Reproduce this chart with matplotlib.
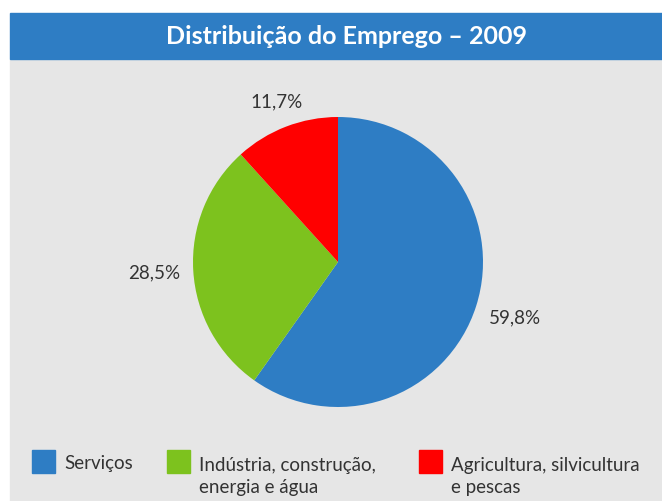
import matplotlib
matplotlib.use('Agg')
import numpy as np
import matplotlib.pyplot as plt
from matplotlib.patches import Rectangle

# Data
categories = ['Serviços', 'Indústria, construção,\nenergia e água', 'Agricultura, silvicultura\ne pescas']
shares = [59.8, 28.5, 11.7]
colors = ['#2E7DC4', '#7DC21E', '#FF0000']
label_dist = [1.28, 1.27, 1.18]
title = 'Distribuição do Emprego – 2009'

W, H = 662, 501
plt.rcParams['font.family'] = ['Lato', 'DejaVu Sans']
text_color = '#333333'

fig = plt.figure(figsize=(W / 100, H / 100), dpi=100)
fig.patch.set_facecolor('white')

def px(x, y):
    # pixel coords from top-left -> figure fraction
    return x / W, 1 - y / H

# grey panel and blue title bar
fig.patches.append(Rectangle(px(10, H), (W - 10) / W, (H - 59) / H,
                             transform=fig.transFigure, color='#E6E6E6', zorder=-2))
fig.patches.append(Rectangle(px(10, 59), (W - 10) / W, 46 / H,
                             transform=fig.transFigure, color='#2E7DC4', zorder=-2))
fig.text(*px(346, 37), title, color='white', fontsize=18, fontweight='bold',
         ha='center', va='center')

# pie axes: radius 145 px, centre (338, 262)
r = 145
half = 160
ax = fig.add_axes([(338 - half) / W, (H - 262 - half) / H, 2 * half / W, 2 * half / H])
ax.set_zorder(2)
ax.axis('off')

wedges, _ = ax.pie(shares, colors=colors, startangle=90, counterclock=False)
ax.set_xlim(-half / r, half / r)
ax.set_ylim(-half / r, half / r)

for w, v, d in zip(wedges, shares, label_dist):
    mid = np.deg2rad((w.theta1 + w.theta2) / 2)
    ax.text(d * np.cos(mid), d * np.sin(mid), ('%.1f%%' % v).replace('.', ','),
            fontsize=13.5, color=text_color, ha='center', va='center', clip_on=False)

# legend (baseline of the last line; 24 px between lines)
leg_x = [32, 167, 419]
for x, c, name in zip(leg_x, colors, categories):
    fig.patches.append(Rectangle(px(x, 473), 23 / W, 23 / H,
                                 transform=fig.transFigure, color=c, zorder=1))
    last_base = 469 + 24 * name.count('\n')
    fig.text(*px(x + 32, last_base), name, fontsize=13.5, color=text_color,
             ha='left', va='baseline', linespacing=1.33)

fig.savefig('out.png', dpi=100, facecolor=fig.get_facecolor())
